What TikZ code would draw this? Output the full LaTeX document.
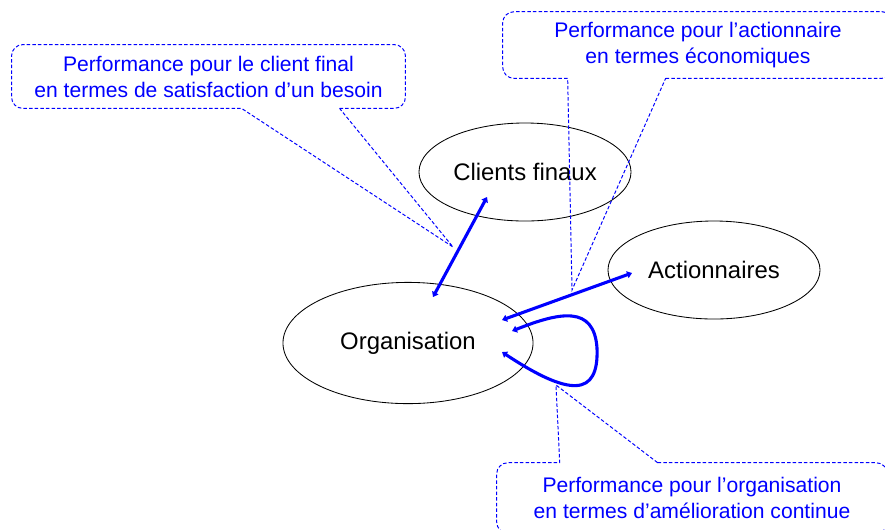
\documentclass[tikz,border=0pt]{standalone}
\usepackage{fontspec}
\setmainfont{Liberation Sans}
\usetikzlibrary{shapes.geometric,arrows.meta,calc}
\definecolor{calloutblue}{RGB}{0,0,255}

\begin{document}
\begin{tikzpicture}[
    x=0.025cm, y=-0.025cm,
    actor/.style={ellipse, draw=black, line width=0.6pt, inner sep=0pt,
                  minimum width=5.3cm, minimum height=2.45cm,
                  font=\fontsize{17}{20}\selectfont},
    bubble/.style={rectangle, inner sep=0pt, align=center, text=calloutblue,
                   font=\fontsize{15}{18.5}\selectfont},
    callout/.style={draw=calloutblue, line width=0.7pt,
                    dash pattern=on 2.5pt off 1.5pt},
    link/.style={{Triangle[length=3.5pt,width=5pt]}-{Triangle[length=3.5pt,width=5pt]},
                 draw=calloutblue, line width=2.2pt},
]
\clip (0,0) rectangle (885,529);

% Actors
\node[actor] (cli) at (525,172) {Clients finaux};
\node[actor] (act) at (714,270) {Actionnaires};
\node[actor, minimum width=6.25cm, minimum height=3.03cm] (org) at (408,343) {Organisation};

% Link ends
\coordinate (o1) at ($(org)+(25,-46)$);
\coordinate (o2) at ($(org)+(94,-23)$);
\coordinate (o3) at ($(org)+(104,-12)$);
\coordinate (o4) at ($(org)+(94,9)$);
\coordinate (c1) at ($(cli)+(-38,25)$);
\coordinate (a1) at ($(act)+(-82,3)$);

% Links
\draw[link] (o1) -- (c1);
\draw[link] (o2) -- (a1);
\draw[link] (o3) .. controls (560,312) and (594,305) .. (597,348)
                 .. controls (599,397) and (570,397) .. (o4);

% Callout texts
\node[bubble, minimum width=9.83cm, minimum height=1.58cm] (bclient) at (208.5,76.5)
  {Performance pour le client final\\en termes de satisfaction d'un besoin};
\node[bubble, minimum width=9.75cm, minimum height=1.65cm] (bact) at (698,45)
  {Performance pour l'actionnaire\\en termes économiques};
\node[bubble, minimum width=9.75cm, minimum height=1.75cm] (borg) at (692,498)
  {Performance pour l'organisation\\en termes d'amélioration continue};

% Callout tips
\coordinate (tclient) at (453,247);
\coordinate (tact) at (572,290);
\coordinate (torg) at (556,385);

% Callout outlines
\draw[callout] ($(bclient.south west)+(328,0)$) [rounded corners=8pt]
  -- (bclient.south east) -- (bclient.north east) -- (bclient.north west)
  -- (bclient.south west) [sharp corners] -- ($(bclient.south west)+(230,0)$)
  -- (tclient) -- cycle;
\draw[callout] ($(bact.south west)+(163,0)$) [rounded corners=8pt]
  -- (bact.south east) -- (bact.north east) -- (bact.north west)
  -- (bact.south west) [sharp corners] -- ($(bact.south west)+(65,0)$)
  -- (tact) -- cycle;
\draw[callout] ($(borg.north west)+(161,0)$) [rounded corners=8pt]
  -- (borg.north east) -- (borg.south east) -- (borg.south west)
  -- (borg.north west) [sharp corners] -- ($(borg.north west)+(63,0)$)
  -- (torg) -- cycle;

\end{tikzpicture}
\end{document}
